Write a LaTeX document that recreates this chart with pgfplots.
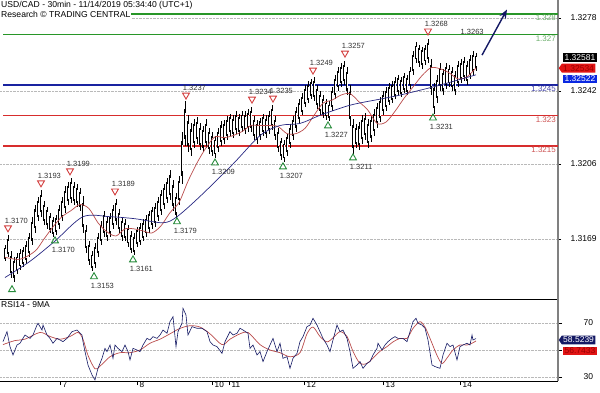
\documentclass[border=0pt]{standalone}
\usepackage{pgfplots}
\pgfplotsset{compat=1.18}
\usepackage{pgfplotstable}
\usepackage{fontspec}
\setmainfont{Liberation Sans}
\usetikzlibrary{arrows.meta,shapes.symbols}
\definecolor{sgreen}{RGB}{40,150,40}
\definecolor{sgreenT}{RGB}{110,175,110}
\definecolor{sblue}{RGB}{25,35,160}
\definecolor{sblueT}{RGB}{70,70,170}
\definecolor{sred}{RGB}{215,45,45}
\definecolor{sredT}{RGB}{205,85,85}
\definecolor{maRed}{RGB}{185,75,75}
\definecolor{maBlue}{RGB}{40,40,130}
\definecolor{navyA}{RGB}{20,25,100}
\definecolor{triR}{RGB}{210,60,60}
\definecolor{triG}{RGB}{40,140,60}
\definecolor{tagBlue}{RGB}{10,40,225}
\definecolor{tagRed}{RGB}{225,20,20}

\pgfplotstableread{
x l h
5 1.3158 1.3166
8 1.3160 1.3171
11 1.3150 1.3163
14 1.3148 1.3160
17 1.3152 1.3162
20 1.3154 1.3164
23 1.3155 1.3165
26 1.3157 1.3168
29 1.3160 1.3172
32 1.3166 1.3180
35 1.3172 1.3186
38 1.3178 1.3190
41 1.3180 1.3193
44 1.3176 1.3188
47 1.3174 1.3185
50 1.3172 1.3182
53 1.3170 1.3180
56 1.3171 1.3181
59 1.3174 1.3186
62 1.3178 1.3190
65 1.3182 1.3195
68 1.3186 1.3197
71 1.3187 1.3199
74 1.3186 1.3197
77 1.3185 1.3196
80 1.3183 1.3194
83 1.3172 1.3190
86 1.3162 1.3176
89 1.3156 1.3168
92 1.3153 1.3163
95 1.3155 1.3167
98 1.3160 1.3172
101 1.3166 1.3178
104 1.3170 1.3183
107 1.3168 1.3180
110 1.3170 1.3182
113 1.3174 1.3186
116 1.3176 1.3189
119 1.3172 1.3184
122 1.3168 1.3180
125 1.3168 1.3179
128 1.3165 1.3176
131 1.3162 1.3173
134 1.3161 1.3172
137 1.3165 1.3175
140 1.3166 1.3177
143 1.3168 1.3179
146 1.3170 1.3181
149 1.3172 1.3183
152 1.3174 1.3185
155 1.3175 1.3187
158 1.3178 1.3190
161 1.3181 1.3193
164 1.3184 1.3196
167 1.3187 1.3199
170 1.3188 1.3203
173 1.3183 1.3198
176 1.3179 1.3192
179 1.3186 1.3200
182 1.3196 1.3222
185 1.3215 1.3237
188 1.3212 1.3230
191 1.3210 1.3226
194 1.3214 1.3228
197 1.3216 1.3229
200 1.3213 1.3226
203 1.3212 1.3225
206 1.3214 1.3228
209 1.3211 1.3224
212 1.3210 1.3222
215 1.3209 1.3220
218 1.3212 1.3224
221 1.3215 1.3227
224 1.3216 1.3228
227 1.3218 1.3230
230 1.3220 1.3231
233 1.3219 1.3230
236 1.3221 1.3232
239 1.3220 1.3231
242 1.3222 1.3232
245 1.3221 1.3232
248 1.3222 1.3233
251 1.3222 1.3234
254 1.3218 1.3230
257 1.3216 1.3228
260 1.3218 1.3229
263 1.3220 1.3231
266 1.3219 1.3230
269 1.3221 1.3232
272 1.3223 1.3235
275 1.3218 1.3230
278 1.3212 1.3224
281 1.3208 1.3219
284 1.3207 1.3218
287 1.3210 1.3221
290 1.3214 1.3226
293 1.3218 1.3230
296 1.3222 1.3234
299 1.3226 1.3238
302 1.3230 1.3241
305 1.3234 1.3245
308 1.3236 1.3247
311 1.3238 1.3248
314 1.3237 1.3249
317 1.3233 1.3245
320 1.3230 1.3242
323 1.3229 1.3240
326 1.3228 1.3238
329 1.3227 1.3237
332 1.3232 1.3244
335 1.3238 1.3250
338 1.3242 1.3254
341 1.3244 1.3256
344 1.3245 1.3257
347 1.3240 1.3254
350 1.3225 1.3245
353 1.3211 1.3228
356 1.3214 1.3226
359 1.3213 1.3227
362 1.3216 1.3230
365 1.3218 1.3231
368 1.3214 1.3228
371 1.3217 1.3230
374 1.3220 1.3233
377 1.3224 1.3236
380 1.3227 1.3239
383 1.3230 1.3242
386 1.3232 1.3244
389 1.3235 1.3246
392 1.3236 1.3247
395 1.3238 1.3249
398 1.3240 1.3250
401 1.3239 1.3249
404 1.3241 1.3251
407 1.3240 1.3250
410 1.3243 1.3254
413 1.3250 1.3262
416 1.3256 1.3266
419 1.3254 1.3265
422 1.3253 1.3264
425 1.3255 1.3265
428 1.3256 1.3268
431 1.3240 1.3258
434 1.3231 1.3246
437 1.3236 1.3250
440 1.3242 1.3256
443 1.3240 1.3253
446 1.3243 1.3256
449 1.3244 1.3255
452 1.3242 1.3254
455 1.3240 1.3252
458 1.3244 1.3257
461 1.3246 1.3258
464 1.3247 1.3259
467 1.3245 1.3257
470 1.3248 1.3260
473 1.3250 1.3262
476 1.3252 1.3261
}\bars

\pgfplotstableread{
x y lab
8 1.31745 1.3170
41 1.31967 1.3193
70 1.32026 1.3199
115 1.31927 1.3189
186 1.32400 1.3237
252 1.32380 1.3234
273 1.32385 1.3235
313 1.32523 1.3249
345 1.32607 1.3257
428 1.32716 1.3268
}\tops

\pgfplotstableread{
x y lab
55 1.31681 1.3170
94 1.31504 1.3153
133 1.31587 1.3161
177 1.31775 1.3179
215 1.32065 1.3209
283 1.32046 1.3207
328 1.32248 1.3227
353 1.32090 1.3211
433 1.32287 1.3231
}\bottoms

\begin{document}
\begin{tikzpicture}[font=\fontsize{8.5}{10}\selectfont]
\path[use as bounding box] (0pt,0pt) rectangle (600pt,392pt);
\begin{axis}[
  at={(0pt,392pt)}, anchor=north west, scale only axis,
  width=558pt, height=299pt,
  xmin=0, xmax=558, ymin=1.31394, ymax=1.32869,
  axis x line*=bottom, axis y line*=right,
  x axis line style={black, line width=0.9pt},
  y axis line style={gray, line width=1.4pt},
  xtick=\empty,
  ytick={1.3169,1.3206,1.3242,1.3278},
  yticklabels={1.3169,1.3206,1.3242,1.3278},
  yticklabel style={xshift=6pt, font=\fontsize{8.5}{10}\selectfont},
  tick align=outside, major tick length=3pt,
  ytick style={black, line width=0.5pt},
  ymajorgrids, grid style={densely dotted, gray!55},
  clip=false,
]
% level lines
\addplot[sgreen, line width=1.5pt] coordinates {(3,1.3280) (558,1.3280)};
\addplot[sgreen, line width=1.5pt] coordinates {(3,1.3270) (558,1.3270)};
\addplot[sblue, line width=1.5pt] coordinates {(3,1.3245) (558,1.3245)};
\addplot[sred, line width=1.5pt] coordinates {(3,1.3230) (558,1.3230)};
\addplot[sred, line width=1.5pt] coordinates {(3,1.3215) (558,1.3215)};
% bars: wicks
\addplot[draw=none, mark=none, forget plot,
  error bars/.cd, y dir=both, y explicit, error mark=none,
  error bar style={draw=black, line width=0.7pt}]
  table[x=x, y expr={(\thisrow{h}+\thisrow{l})/2}, y error expr={(\thisrow{h}-\thisrow{l})/2}] {\bars};
% bars: bodies
\addplot[draw=none, mark=none, forget plot,
  error bars/.cd, y dir=both, y explicit, error mark=none,
  error bar style={draw=black, line width=2.5pt}]
  table[x=x, y expr={(\thisrow{h}+\thisrow{l})/2}, y error expr={(\thisrow{h}-\thisrow{l})/3}] {\bars};
\addplot[draw=none, mark=none, forget plot,
  error bars/.cd, y dir=both, y explicit, error mark=none,
  error bar style={draw=white, line width=0.6pt}]
  table[x=x, y expr={(\thisrow{h}+\thisrow{l})/2}, y error expr={(\thisrow{h}-\thisrow{l})/4}] {\bars};
% moving averages
\addplot[maRed, line width=0.7pt, smooth] coordinates {
(5,1.3160)(20,1.3159)(35,1.3163)(44,1.3169)(53,1.3175)(62,1.3180)(71,1.3183)(80,1.3186)(89,1.3184)(98,1.3177)(107,1.31725)(116,1.31705)(125,1.3174)(134,1.3174)(143,1.3173)(152,1.3172)(161,1.31755)(170,1.3182)(179,1.3187)(188,1.31975)(197,1.32065)(206,1.3214)(215,1.32194)(224,1.3219)(233,1.3220)(242,1.3222)(251,1.3225)(260,1.3225)(269,1.3225)(278,1.32245)(287,1.3221)(296,1.3221)(305,1.32236)(314,1.3230)(323,1.3236)(332,1.32375)(341,1.3240)(350,1.32407)(359,1.32367)(368,1.32325)(377,1.3226)(386,1.32267)(395,1.3232)(404,1.32384)(413,1.3244)(422,1.32496)(431,1.32535)(440,1.3253)(449,1.3251)(458,1.3248)(467,1.3249)(476,1.32534)};
\addplot[maBlue, line width=0.7pt, smooth] coordinates {
(5,1.3150)(30,1.3158)(55,1.3168)(83,1.3180)(110,1.3180)(135,1.3179)(163,1.3177)(177,1.3180)(200,1.3190)(233,1.3206)(260,1.3220)(280,1.3225)(300,1.3226)(320,1.3230)(350,1.3235)(380,1.3238)(400,1.3240)(433,1.3244)(455,1.3247)(476,1.3250)};
% swing markers
\addplot[only marks, mark=triangle, mark size=4pt,
  mark options={rotate=180, draw=triR, fill=white, line width=0.9pt},
  point meta=explicit symbolic, nodes near coords,
  every node near coord/.style={anchor=south west, xshift=-4pt, yshift=3.5pt, inner sep=0.5pt, text=black!80, font=\fontsize{7.5}{8}\selectfont}]
  table[x=x, y=y, meta=lab] {\tops};
\addplot[only marks, mark=triangle, mark size=4pt,
  mark options={draw=triG, fill=white, line width=0.9pt},
  point meta=explicit symbolic, nodes near coords,
  every node near coord/.style={anchor=north west, xshift=-4pt, yshift=-5.5pt, inner sep=0.5pt, text=black!80, font=\fontsize{7.5}{8}\selectfont}]
  table[x=x, y=y, meta=lab] {\bottoms};
\addplot[only marks, mark=triangle, mark size=4pt,
  mark options={draw=triG, fill=white, line width=0.9pt}] coordinates {(12,1.31440)};
% annotations
\node[anchor=west, inner sep=0.5pt, text=black!80, font=\fontsize{7.5}{8}\selectfont] at (axis cs:460,1.32711) {1.3263};
\draw[navyA, line width=1.4pt, -{Stealth[length=9pt,width=7pt]}] (axis cs:482,1.32597) -- (axis cs:507,1.32822);
\node[anchor=north west, fill=white, inner sep=1pt, font=\fontsize{8.6}{10}\selectfont] at (rel axis cs:0,1) {USD/CAD - 30min - 11/14/2019 05:34:40 (UTC+1)};
\node[anchor=north west, fill=white, inner sep=1pt, font=\fontsize{8.6}{10}\selectfont] at ([yshift=-10pt]rel axis cs:0,1) {Research © TRADING CENTRAL};
% level labels
\node[anchor=north east, inner sep=1pt, text=sgreenT, font=\fontsize{8}{9}\selectfont] at (axis cs:557,1.3280) {1.328};
\node[anchor=north east, inner sep=1pt, text=sgreenT, font=\fontsize{8}{9}\selectfont] at (axis cs:557,1.3270) {1.327};
\node[anchor=north east, inner sep=1pt, text=sblueT, font=\fontsize{8}{9}\selectfont] at (axis cs:557,1.3245) {1.3245};
\node[anchor=north east, inner sep=1pt, text=sredT, font=\fontsize{8}{9}\selectfont] at (axis cs:557,1.3230) {1.323};
\node[anchor=north east, inner sep=1pt, text=sredT, font=\fontsize{8}{9}\selectfont] at (axis cs:557,1.3215) {1.3215};
% price tags
\node[anchor=west, fill=black, text=white, inner sep=1.4pt] at (axis cs:563,1.32587) {1.32581};
\node[anchor=west, shape=signal, signal to=west, signal pointer angle=110, fill=tagRed, text=red!60!black, inner sep=1.4pt] at (axis cs:558.5,1.32533) {1.32534};
\node[anchor=west, fill=tagBlue, text=white, inner sep=1.4pt] at (axis cs:563,1.32479) {1.32522};
\end{axis}

\begin{axis}[
  at={(0pt,93pt)}, anchor=north west, scale only axis,
  width=558pt, height=82pt,
  xmin=0, xmax=558, ymin=27, ymax=87.8,
  axis x line*=bottom, axis y line*=right,
  x axis line style={black, line width=0.9pt},
  y axis line style={gray, line width=1.4pt},
  xtick={60,137,212,229,304,383,460},
  xticklabels={7,8,10,11,12,13,14},
  xticklabel style={anchor=north west, xshift=1.5pt, yshift=4pt, inner sep=1pt, font=\fontsize{8.2}{9}\selectfont},
  ytick={30,50,70}, yticklabels={30,{},70},
  yticklabel style={xshift=18pt, font=\fontsize{8.5}{10}\selectfont},
  tick align=outside, major tick length=4pt,
  tick style={black, line width=0.5pt},
  ymajorgrids, grid style={densely dotted, gray!55},
  clip=false,
]
\addplot[maRed, line width=0.7pt, smooth] coordinates {
(3,54)(15,57)(25,58)(40,63)(50,60)(60,58)(70,60)(78,63)(83,58)(88,46)(95,36)(100,38)(110,45)(120,48)(130,48)(140,50)(150,55)(160,58)(170,62)(180,66)(190,68)(200,67)(210,62)(222,54)(230,58)(240,62)(248,63)(260,54)(270,50)(280,48)(290,45)(300,48)(307,62)(313,67)(320,60)(327,56)(333,59)(340,63.6)(347,60)(353,49)(360,40)(367,40)(373,44)(380,49)(387,52.5)(393,56)(400,58.6)(407,58.6)(413,66)(420,71)(425,67)(430,58.6)(437,46)(442,40)(447,44)(453,50)(460,53.7)(467,53.7)(472,55)(476,56.7)};
\addplot[navyA, line width=0.6pt] coordinates {
(3,56.2)(7,63.6)(10,52.5)(13,46.3)(17,53.7)(20,55.0)(25,61.1)(30,58.6)(33,61.1)(37,68.5)(38,69.8)(42,64.8)(43,68.5)(47,61.1)(50,58.6)(53,55.0)(57,58.6)(60,57.4)(63,56.2)(67,58.6)(72,63.6)(77,64.8)(82,61.1)(83,56.2)(85,48.8)(88,38.9)(92,31.5)(95,27.8)(98,36.4)(102,43.8)(105,51.2)(107,48.8)(110,53.7)(113,43.8)(115,53.7)(118,51.2)(122,48.8)(125,53.7)(128,48.8)(130,42.6)(133,51.2)(137,50.0)(140,48.8)(143,53.7)(147,58.6)(150,57.4)(153,59.9)(157,58.6)(160,61.1)(163,64.8)(167,62.4)(170,71.0)(173,74.7)(176,52.5)(178,63.6)(182,69.8)(183,80.9)(186,75.9)(188,61.1)(192,67.3)(197,66.1)(202,66.1)(207,63.6)(210,56.2)(213,53.7)(217,52.5)(222,47.5)(225,56.2)(230,63.6)(233,61.1)(237,62.4)(240,66.1)(243,64.8)(248,62.4)(250,51.2)(253,53.7)(257,46.3)(260,48.8)(263,41.4)(267,48.8)(270,53.7)(273,58.6)(277,48.8)(280,55.0)(283,43.8)(287,45.1)(290,36.4)(293,43.8)(297,47.5)(300,56.2)(303,59.9)(307,67.3)(310,68.5)(313,73.5)(317,68.5)(320,63.6)(323,58.6)(327,53.7)(330,48.8)(333,57.4)(337,68.5)(340,63.6)(343,64.8)(347,58.6)(350,48.8)(353,36.4)(357,38.9)(360,41.4)(363,36.4)(367,40.1)(370,41.4)(373,46.3)(377,51.2)(378,55.0)(382,50.0)(385,53.7)(388,56.2)(392,58.6)(395,59.9)(398,58.6)(403,58.6)(407,56.2)(410,63.6)(413,71.0)(416,73.5)(418,69.8)(422,68.5)(425,66.1)(428,57.4)(432,38.9)(435,37.7)(440,36.4)(443,46.3)(447,55.0)(450,52.5)(453,53.7)(457,42.6)(460,52.5)(463,53.7)(467,55.0)(470,53.7)(472,61.1)(473,57.4)(476,58.5)};
\node[anchor=north west, inner sep=1pt, font=\fontsize{8.5}{10}\selectfont] at ([yshift=-1pt]rel axis cs:0,1) {RSI14 - 9MA};
\node[anchor=west, shape=signal, signal to=west, signal pointer angle=110, fill=navyA, text=white, inner sep=1.4pt] at (axis cs:558.5,57.4) {58.5239};
\node[anchor=west, fill=tagRed, text=red!60!black, inner sep=1.4pt] at (axis cs:563,49.3) {56.7433};
\end{axis}
\end{tikzpicture}
\end{document}
